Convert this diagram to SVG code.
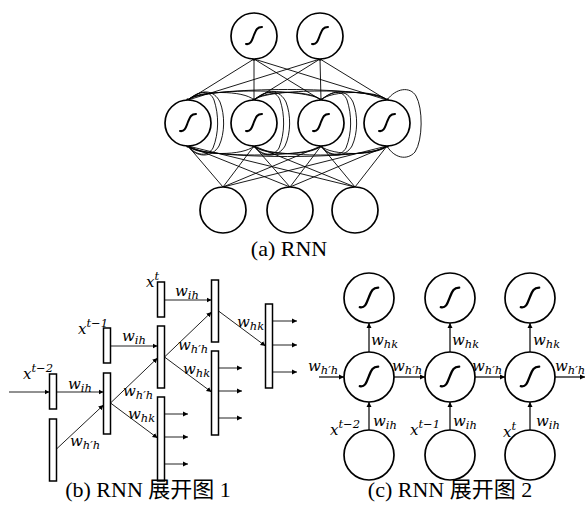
<svg xmlns="http://www.w3.org/2000/svg" xmlns:xlink="http://www.w3.org/1999/xlink" width="586" height="508" viewBox="0 0 586 508">
<style>
.node{fill:#fff;stroke:#000;stroke-width:1.7}
.bar{fill:#fff;stroke:#000;stroke-width:1.5}
.sig{fill:none;stroke:#000;stroke-width:2;stroke-linecap:round}
.w{stroke:#000;stroke-width:0.9;fill:none}
.rec{stroke:#000;stroke-width:0.9;fill:none}
.ab{stroke:#222;stroke-width:1;fill:none;marker-end:url(#ah)}
.ac{stroke:#666;stroke-width:2;fill:none;marker-end:url(#ah2)}
.m{font-family:"DejaVu Serif",serif;font-style:italic;font-size:15px;fill:#000}
.s{font-size:11.5px}
.cap{font-family:"Liberation Serif","Noto Sans CJK SC",serif;font-size:22px;fill:#000;text-anchor:middle}
</style>
<defs>
<marker id="ah" markerWidth="6" markerHeight="6" refX="5" refY="3" orient="auto" markerUnits="userSpaceOnUse"><path d="M0,0.5 L5,3 L0,5.5 Z" fill="#000"/></marker>
<marker id="ah2" markerWidth="6" markerHeight="6" refX="5" refY="3" orient="auto" markerUnits="userSpaceOnUse"><path d="M0,0.5 L5,3 L0,5.5 Z" fill="#000"/></marker>
<path id="sg" class="sig" d="M-8,8 C-3,9 -2,4 0,-1 C2,-6 3,-9 8,-9"/>
</defs>

<!-- Panel (a) connectors -->
<g id="connectors-a">
<g class="w">
<line x1="254" y1="59" x2="188" y2="100"/><line x1="254" y1="59" x2="254" y2="100"/><line x1="254" y1="59" x2="321" y2="100"/><line x1="254" y1="59" x2="387" y2="100"/>
<line x1="320" y1="59" x2="188" y2="100"/><line x1="320" y1="59" x2="254" y2="100"/><line x1="320" y1="59" x2="321" y2="100"/><line x1="320" y1="59" x2="387" y2="100"/>
<line x1="188" y1="146" x2="223" y2="187"/><line x1="188" y1="146" x2="290" y2="187"/><line x1="188" y1="146" x2="355" y2="187"/>
<line x1="254" y1="146" x2="223" y2="187"/><line x1="254" y1="146" x2="290" y2="187"/><line x1="254" y1="146" x2="355" y2="187"/>
<line x1="321" y1="146" x2="223" y2="187"/><line x1="321" y1="146" x2="290" y2="187"/><line x1="321" y1="146" x2="355" y2="187"/>
<line x1="387" y1="146" x2="223" y2="187"/><line x1="387" y1="146" x2="290" y2="187"/><line x1="387" y1="146" x2="355" y2="187"/>
</g>
<g class="rec">
<path d="M188,100 C198,90 244,90 254,100"/><path d="M254,100 C264,90 311,90 321,100"/><path d="M321,100 C331,90 377,90 387,100"/>
<path d="M188,100 C200,88 309,88 321,100"/><path d="M254,100 C266,88 375,88 387,100"/>
<path d="M188,100 C200,86 375,86 387,100"/>
<path d="M188,146 C198,156 244,156 254,146"/><path d="M254,146 C264,156 311,156 321,146"/><path d="M321,146 C331,156 377,156 387,146"/>
<path d="M188,146 C200,158 309,158 321,146"/><path d="M254,146 C266,158 375,158 387,146"/>
<path d="M188,146 C200,160 375,160 387,146"/>
<path d="M188,100 C200,90 210,90 214,100 C219,115 219,133 213,148 C208,157 196,156 188,146"/>
<path d="M188,100 C202,88 214,90 220,102 C225,115 225,133 219,146 C212,158 196,158 188,146"/>
<path d="M254,100 C266,90 276,90 280,100 C285,115 285,133 279,148 C274,157 262,156 254,146"/>
<path d="M254,100 C268,88 280,90 286,102 C291,115 291,133 285,146 C278,158 262,158 254,146"/>
<path d="M321,100 C333,90 343,90 347,100 C352,115 352,133 346,148 C341,157 329,156 321,146"/>
<path d="M321,100 C335,88 347,90 353,102 C358,115 358,133 352,146 C345,158 329,158 321,146"/>
<path d="M387,100 C396,88 410,86 416,96 C423,108 423,140 415,152 C407,161 394,158 387,146"/>
</g>
<g fill="#000">
<circle cx="254" cy="59" r="1.8"/><circle cx="320" cy="59" r="1.8"/>
<circle cx="188" cy="100" r="1.8"/><circle cx="254" cy="100" r="1.8"/><circle cx="321" cy="100" r="1.8"/><circle cx="387" cy="100" r="1.8"/>
<circle cx="188" cy="146" r="1.8"/><circle cx="254" cy="146" r="1.8"/><circle cx="321" cy="146" r="1.8"/><circle cx="387" cy="146" r="1.8"/>
</g>
</g>

<!-- Panel (a) nodes -->
<g id="a-out1"><circle class="node" cx="254" cy="36" r="23"/><use xlink:href="#sg" href="#sg" transform="translate(254,36)"/></g>
<g id="a-out2"><circle class="node" cx="320" cy="36" r="23"/><use xlink:href="#sg" href="#sg" transform="translate(320,36)"/></g>
<g id="a-h1"><circle class="node" cx="188" cy="123" r="23"/><use xlink:href="#sg" href="#sg" transform="translate(188,123)"/></g>
<g id="a-h2"><circle class="node" cx="254" cy="123" r="23"/><use xlink:href="#sg" href="#sg" transform="translate(254,123)"/></g>
<g id="a-h3"><circle class="node" cx="321" cy="123" r="23"/><use xlink:href="#sg" href="#sg" transform="translate(321,123)"/></g>
<g id="a-h4"><circle class="node" cx="387" cy="123" r="23"/><use xlink:href="#sg" href="#sg" transform="translate(387,123)"/></g>
<g id="a-in1"><circle class="node" cx="223" cy="210" r="23"/></g>
<g id="a-in2"><circle class="node" cx="290" cy="210" r="23"/></g>
<g id="a-in3"><circle class="node" cx="355" cy="210" r="23"/></g>
<text class="cap" x="289" y="256">(a) RNN</text>

<!-- Panel (b) connectors -->
<g id="connectors-b">
<line class="ab" x1="9" y1="392" x2="49.5" y2="392"/>
<line class="ab" x1="56.5" y1="392" x2="103.5" y2="392"/>
<line class="ab" x1="56.5" y1="449" x2="103.5" y2="405"/>
<line class="ab" x1="110.5" y1="346" x2="157.5" y2="346"/>
<line class="ab" x1="110.5" y1="403" x2="157.5" y2="358"/>
<line class="ab" x1="110.5" y1="403" x2="157.5" y2="438"/>
<line class="ab" x1="164.5" y1="300" x2="211.5" y2="300"/>
<line class="ab" x1="164.5" y1="357" x2="211.5" y2="312"/>
<line class="ab" x1="164.5" y1="357" x2="211.5" y2="392"/>
<line class="ab" x1="218.5" y1="311" x2="265.5" y2="346"/>
<line class="ab" x1="272.5" y1="321" x2="297" y2="321"/>
<line class="ab" x1="272.5" y1="345" x2="297" y2="345"/>
<line class="ab" x1="272.5" y1="372" x2="297" y2="372"/>
<line class="ab" x1="218.5" y1="368" x2="242" y2="368"/>
<line class="ab" x1="218.5" y1="391" x2="242" y2="391"/>
<line class="ab" x1="218.5" y1="418" x2="242" y2="418"/>
<line class="ab" x1="164.5" y1="414" x2="188" y2="414"/>
<line class="ab" x1="164.5" y1="437" x2="188" y2="437"/>
<line class="ab" x1="164.5" y1="464" x2="188" y2="464"/>
</g>

<!-- Panel (b) nodes -->
<g id="b-x-t2"><rect class="bar" x="49.5" y="374" width="7" height="35"/></g>
<g id="b-h-t3"><rect class="bar" x="49.5" y="419" width="7" height="62"/></g>
<g id="b-x-t1"><rect class="bar" x="103.5" y="328" width="7" height="35"/></g>
<g id="b-h-t2"><rect class="bar" x="103.5" y="373" width="7" height="61"/></g>
<g id="b-x-t"><rect class="bar" x="157.5" y="282" width="7" height="35"/></g>
<g id="b-h-t1"><rect class="bar" x="157.5" y="326" width="7" height="62"/></g>
<g id="b-y-t2"><rect class="bar" x="157.5" y="397" width="7" height="84"/></g>
<g id="b-h-t"><rect class="bar" x="211.5" y="280" width="7" height="62"/></g>
<g id="b-y-t1"><rect class="bar" x="211.5" y="351" width="7" height="84"/></g>
<g id="b-y-t"><rect class="bar" x="265.5" y="304" width="7" height="84"/></g>

<g id="b-labels">
<text class="m" x="23" y="379">x<tspan class="s" dy="-7">t−2</tspan></text>
<text class="m" x="78" y="334">x<tspan class="s" dy="-7">t−1</tspan></text>
<text class="m" x="146" y="287">x<tspan class="s" dy="-7">t</tspan></text>
<text class="m" x="68" y="389">w<tspan class="s" dy="3">ih</tspan></text>
<text class="m" x="70" y="446">w<tspan class="s" dy="3">h′h</tspan></text>
<text class="m" x="122" y="341">w<tspan class="s" dy="3">ih</tspan></text>
<text class="m" x="123" y="396">w<tspan class="s" dy="3">h′h</tspan></text>
<text class="m" x="128" y="419">w<tspan class="s" dy="3">hk</tspan></text>
<text class="m" x="175" y="296">w<tspan class="s" dy="3">ih</tspan></text>
<text class="m" x="178" y="350">w<tspan class="s" dy="3">h′h</tspan></text>
<text class="m" x="183" y="374">w<tspan class="s" dy="3">hk</tspan></text>
<text class="m" x="237" y="327">w<tspan class="s" dy="3">hk</tspan></text>
</g>
<text class="cap" x="148" y="497">(b) RNN 展开图 1</text>

<!-- Panel (c) connectors -->
<g id="connectors-c">
<line class="ac" x1="369" y1="430" x2="369" y2="402"/>
<line class="ac" x1="450" y1="430" x2="450" y2="402"/>
<line class="ac" x1="530" y1="430" x2="530" y2="402"/>
<line class="ac" x1="369" y1="352" x2="369" y2="323"/>
<line class="ac" x1="450" y1="352" x2="450" y2="323"/>
<line class="ac" x1="530" y1="352" x2="530" y2="323"/>
<line class="ac" x1="319" y1="377" x2="344" y2="377"/>
<line class="ac" x1="394" y1="377" x2="425" y2="377"/>
<line class="ac" x1="475" y1="377" x2="505" y2="377"/>
<line class="ac" x1="555" y1="377" x2="585" y2="377"/>
</g>

<!-- Panel (c) nodes -->
<g id="c-y1"><circle class="node" cx="369" cy="298" r="25"/><use xlink:href="#sg" href="#sg" transform="translate(369,298) scale(1.15)"/></g>
<g id="c-y2"><circle class="node" cx="450" cy="298" r="25"/><use xlink:href="#sg" href="#sg" transform="translate(450,298) scale(1.15)"/></g>
<g id="c-y3"><circle class="node" cx="530" cy="298" r="25"/><use xlink:href="#sg" href="#sg" transform="translate(530,298) scale(1.15)"/></g>
<g id="c-h1"><circle class="node" cx="369" cy="377" r="25"/><use xlink:href="#sg" href="#sg" transform="translate(369,377) scale(1.15)"/></g>
<g id="c-h2"><circle class="node" cx="450" cy="377" r="25"/><use xlink:href="#sg" href="#sg" transform="translate(450,377) scale(1.15)"/></g>
<g id="c-h3"><circle class="node" cx="530" cy="377" r="25"/><use xlink:href="#sg" href="#sg" transform="translate(530,377) scale(1.15)"/></g>
<g id="c-x1"><circle class="node" cx="369" cy="455" r="25"/></g>
<g id="c-x2"><circle class="node" cx="450" cy="455" r="25"/></g>
<g id="c-x3"><circle class="node" cx="530" cy="455" r="25"/></g>

<g id="c-labels">
<text class="m" x="371" y="345">w<tspan class="s" dy="3">hk</tspan></text>
<text class="m" x="452" y="345">w<tspan class="s" dy="3">hk</tspan></text>
<text class="m" x="533" y="345">w<tspan class="s" dy="3">hk</tspan></text>
<text class="m" x="373" y="426">w<tspan class="s" dy="3">ih</tspan></text>
<text class="m" x="453" y="426">w<tspan class="s" dy="3">ih</tspan></text>
<text class="m" x="536" y="426">w<tspan class="s" dy="3">ih</tspan></text>
<text class="m" x="330" y="435">x<tspan class="s" dy="-7">t−2</tspan></text>
<text class="m" x="410" y="435">x<tspan class="s" dy="-7">t−1</tspan></text>
<text class="m" x="503" y="437">x<tspan class="s" dy="-7">t</tspan></text>
<text class="m" x="308" y="371">w<tspan class="s" dy="3">h′h</tspan></text>
<text class="m" x="392" y="371">w<tspan class="s" dy="3">h′h</tspan></text>
<text class="m" x="472" y="371">w<tspan class="s" dy="3">h′h</tspan></text>
<text class="m" x="555" y="371">w<tspan class="s" dy="3">h′h</tspan></text>
</g>
<text class="cap" x="450" y="497">(c) RNN 展开图 2</text>
</svg>
